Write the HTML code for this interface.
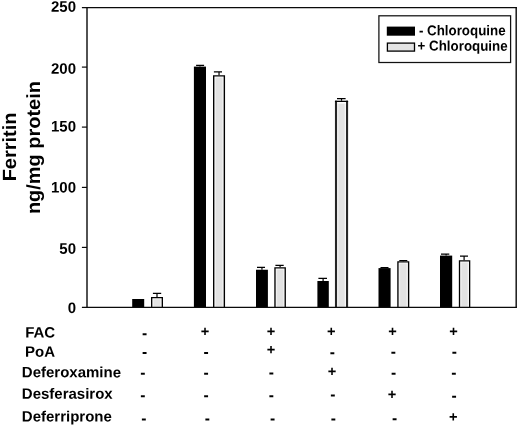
<!DOCTYPE html>
<html><head><meta charset="utf-8"><title>Ferritin chart</title>
<style>
html,body{margin:0;padding:0;background:#fff;}
body{width:520px;height:426px;overflow:hidden;}
svg{display:block;}
text{font-family:"Liberation Sans",Arial,sans-serif;font-weight:bold;fill:#000;}
.t{font-size:15px;}
.tk{font-size:15px;text-anchor:end;}
.lg{font-size:14.2px;}
.yl{font-size:19.1px;text-anchor:middle;}
.s{font-size:15.5px;text-anchor:middle;}
</style></head><body>
<svg width="520" height="426" viewBox="0 0 520 426">
<rect width="520" height="426" fill="#fff"/>

<defs><linearGradient id="gh" x1="0" y1="0" x2="1" y2="0"><stop offset="0" stop-color="#fbfbfb"/><stop offset="0.22" stop-color="#e2e2e2"/><stop offset="0.78" stop-color="#e2e2e2"/><stop offset="1" stop-color="#fbfbfb"/></linearGradient></defs>
<rect x="132.20" y="299.00" width="12.00" height="8.35" fill="#000"/>
<rect x="193.90" y="66.60" width="12.10" height="240.75" fill="#000"/>
<path d="M199.95 66.60V65.40M196.10 65.40H204.10" stroke="#000" stroke-width="1.2" fill="none"/>
<rect x="256.00" y="269.75" width="11.90" height="37.60" fill="#000"/>
<path d="M261.95 269.75V267.30M257.00 267.30H265.00" stroke="#000" stroke-width="1.2" fill="none"/>
<rect x="317.40" y="281.00" width="11.40" height="26.35" fill="#000"/>
<path d="M323.10 281.00V278.40M318.40 278.40H327.00" stroke="#000" stroke-width="1.2" fill="none"/>
<rect x="378.50" y="268.10" width="12.10" height="39.25" fill="#000"/>
<path d="M384.55 268.10V267.60M380.50 267.60H388.50" stroke="#000" stroke-width="1.2" fill="none"/>
<rect x="440.00" y="255.60" width="12.20" height="51.75" fill="#000"/>
<path d="M446.10 255.60V254.10M441.00 254.10H449.30" stroke="#000" stroke-width="1.2" fill="none"/>
<rect x="152.35" y="298.25" width="9.30" height="9.10" fill="#fbfbfb"/>
<rect x="152.35" y="299.15" width="9.30" height="8.20" fill="url(#gh)"/>
<path d="M151.68 307.35V297.57H162.32V307.35" fill="none" stroke="#000" stroke-width="1.35"/>
<path d="M157.00 296.90V293.40M152.90 293.40H161.20" stroke="#000" stroke-width="1.2" fill="none"/>
<rect x="214.40" y="76.60" width="9.25" height="230.75" fill="#fbfbfb"/>
<rect x="214.40" y="77.50" width="9.25" height="229.85" fill="url(#gh)"/>
<path d="M213.70 307.35V75.90H224.35V307.35" fill="none" stroke="#000" stroke-width="1.4"/>
<path d="M219.03 75.20V71.90M213.90 71.90H222.00" stroke="#000" stroke-width="1.2" fill="none"/>
<rect x="275.65" y="268.60" width="8.90" height="38.75" fill="#fbfbfb"/>
<rect x="275.65" y="269.50" width="8.90" height="37.85" fill="url(#gh)"/>
<path d="M274.98 307.35V267.93H285.22V307.35" fill="none" stroke="#000" stroke-width="1.35"/>
<path d="M280.10 267.25V265.40M275.40 265.40H283.70" stroke="#000" stroke-width="1.2" fill="none"/>
<rect x="337.05" y="102.80" width="8.95" height="204.55" fill="#fbfbfb"/>
<rect x="337.05" y="103.70" width="8.95" height="203.65" fill="url(#gh)"/>
<path d="M336.00 307.35V100.70M347.05 100.70V307.35" fill="none" stroke="#262626" stroke-width="2.1"/>
<path d="M334.95 101.35H348.10" fill="none" stroke="#000" stroke-width="1.3"/>
<path d="M341.52 100.70V98.60M337.00 98.60H345.60" stroke="#000" stroke-width="1.2" fill="none"/>
<rect x="398.60" y="262.60" width="9.35" height="44.75" fill="#fbfbfb"/>
<rect x="398.60" y="263.50" width="9.35" height="43.85" fill="url(#gh)"/>
<path d="M397.93 307.35V261.93H408.62V307.35" fill="none" stroke="#000" stroke-width="1.35"/>
<path d="M403.27 261.25V260.50M399.30 260.50H407.30" stroke="#000" stroke-width="1.2" fill="none"/>
<rect x="460.15" y="261.60" width="8.85" height="45.75" fill="#fbfbfb"/>
<rect x="460.15" y="262.50" width="8.85" height="44.85" fill="url(#gh)"/>
<path d="M459.50 307.35V260.95H469.65V307.35" fill="none" stroke="#000" stroke-width="1.3"/>
<path d="M464.10 260.30V256.10M460.00 256.10H468.00" stroke="#000" stroke-width="1.2" fill="none"/>
<path d="M87.0 307.35V7.5M516.2 7.5V307.35" stroke="#1a1a1a" stroke-width="1.5" fill="none"/>
<path d="M81.9 7.5H516.95M81.9 307.35H516.95" stroke="#0a0a0a" stroke-width="1.25" fill="none"/>
<path d="M81.9 247.4H87.0" stroke="#0a0a0a" stroke-width="1.2" fill="none"/>
<path d="M81.9 187.4H87.0" stroke="#0a0a0a" stroke-width="1.2" fill="none"/>
<path d="M81.9 127.1H87.0" stroke="#0a0a0a" stroke-width="1.2" fill="none"/>
<path d="M81.9 67.1H87.0" stroke="#0a0a0a" stroke-width="1.2" fill="none"/>
<text class="tk" transform="translate(76.0,11.8) rotate(0.05) scale(1,1.015)">250</text>
<text class="tk" transform="translate(76.0,73.8) rotate(0.05) scale(1,1.015)">200</text>
<text class="tk" transform="translate(76.0,131.6) rotate(0.05) scale(1,1.015)">150</text>
<text class="tk" transform="translate(76.0,192.6) rotate(0.05) scale(1,1.015)">100</text>
<text class="tk" transform="translate(76.0,253.8) rotate(0.05) scale(1,1.015)">50</text>
<text class="tk" transform="translate(76.0,312.9) rotate(0.05) scale(1,1.015)">0</text>
<text class="yl" transform="translate(16,147) rotate(-90.05) scale(1.045,1)">Ferritin</text>
<text class="yl" transform="translate(40,147.6) rotate(-90.05) scale(1.045,1)">ng/mg protein</text>
<rect x="378.9" y="15.8" width="131.7" height="46.7" fill="#fff" stroke="#111" stroke-width="1.25"/>
<rect x="386.8" y="26.6" width="28.2" height="9.1" fill="#000"/>
<rect x="387.4" y="43.1" width="27.1" height="8.0" fill="#e4e4e4" stroke="#000" stroke-width="1.3"/>
<text class="lg" transform="translate(418.9,35.3) rotate(0.05) scale(0.94,1)">- Chloroquine</text>
<text class="lg" transform="translate(417.6,50.6) rotate(0.05) scale(0.94,1)">+ Chloroquine</text>
<text class="t" transform="translate(25.2,337.5) rotate(0.05)">FAC</text>
<text class="t" transform="translate(25.0,356.7) rotate(0.05)">PoA</text>
<text class="t" transform="translate(21.8,377.3) rotate(0.05)">Deferoxamine</text>
<text class="t" transform="translate(21.8,398.7) rotate(0.05)">Desferasirox</text>
<text class="t" transform="translate(21.8,421.4) rotate(0.05)">Deferriprone</text>
<text transform="translate(144.65,338.36) rotate(0.05)" style="font-size:15.5px;text-anchor:middle">-</text>
<text transform="translate(144.65,357.06) rotate(0.05)" style="font-size:15.5px;text-anchor:middle">-</text>
<text transform="translate(142.80,377.66) rotate(0.05)" style="font-size:15.5px;text-anchor:middle">-</text>
<text transform="translate(142.80,400.26) rotate(0.05)" style="font-size:15.5px;text-anchor:middle">-</text>
<text transform="translate(143.90,423.46) rotate(0.05)" style="font-size:15.5px;text-anchor:middle">-</text>
<text transform="translate(205.10,336.23) rotate(0.05)" style="font-size:14.6px;text-anchor:middle">+</text>
<text transform="translate(206.10,357.06) rotate(0.05)" style="font-size:15.5px;text-anchor:middle">-</text>
<text transform="translate(206.20,377.66) rotate(0.05)" style="font-size:15.5px;text-anchor:middle">-</text>
<text transform="translate(206.20,400.26) rotate(0.05)" style="font-size:15.5px;text-anchor:middle">-</text>
<text transform="translate(207.35,423.46) rotate(0.05)" style="font-size:15.5px;text-anchor:middle">-</text>
<text transform="translate(271.10,336.23) rotate(0.05)" style="font-size:14.6px;text-anchor:middle">+</text>
<text transform="translate(271.10,354.43) rotate(0.05)" style="font-size:14.6px;text-anchor:middle">+</text>
<text transform="translate(271.35,377.56) rotate(0.05)" style="font-size:15.5px;text-anchor:middle">-</text>
<text transform="translate(271.35,400.16) rotate(0.05)" style="font-size:15.5px;text-anchor:middle">-</text>
<text transform="translate(272.50,423.56) rotate(0.05)" style="font-size:15.5px;text-anchor:middle">-</text>
<text transform="translate(331.30,336.23) rotate(0.05)" style="font-size:14.6px;text-anchor:middle">+</text>
<text transform="translate(332.35,357.16) rotate(0.05)" style="font-size:15.5px;text-anchor:middle">-</text>
<text transform="translate(332.00,376.33) rotate(0.05)" style="font-size:14.6px;text-anchor:middle">+</text>
<text transform="translate(332.90,399.46) rotate(0.05)" style="font-size:15.5px;text-anchor:middle">-</text>
<text transform="translate(333.40,423.56) rotate(0.05)" style="font-size:15.5px;text-anchor:middle">-</text>
<text transform="translate(392.40,336.23) rotate(0.05)" style="font-size:14.6px;text-anchor:middle">+</text>
<text transform="translate(393.35,356.86) rotate(0.05)" style="font-size:15.5px;text-anchor:middle">-</text>
<text transform="translate(393.60,377.76) rotate(0.05)" style="font-size:15.5px;text-anchor:middle">-</text>
<text transform="translate(391.90,399.23) rotate(0.05)" style="font-size:14.6px;text-anchor:middle">+</text>
<text transform="translate(394.60,423.36) rotate(0.05)" style="font-size:15.5px;text-anchor:middle">-</text>
<text transform="translate(453.50,336.23) rotate(0.05)" style="font-size:14.6px;text-anchor:middle">+</text>
<text transform="translate(454.30,356.86) rotate(0.05)" style="font-size:15.5px;text-anchor:middle">-</text>
<text transform="translate(453.90,377.76) rotate(0.05)" style="font-size:15.5px;text-anchor:middle">-</text>
<text transform="translate(454.05,400.66) rotate(0.05)" style="font-size:15.5px;text-anchor:middle">-</text>
<text transform="translate(453.30,421.63) rotate(0.05)" style="font-size:14.6px;text-anchor:middle">+</text>
</svg></body></html>
